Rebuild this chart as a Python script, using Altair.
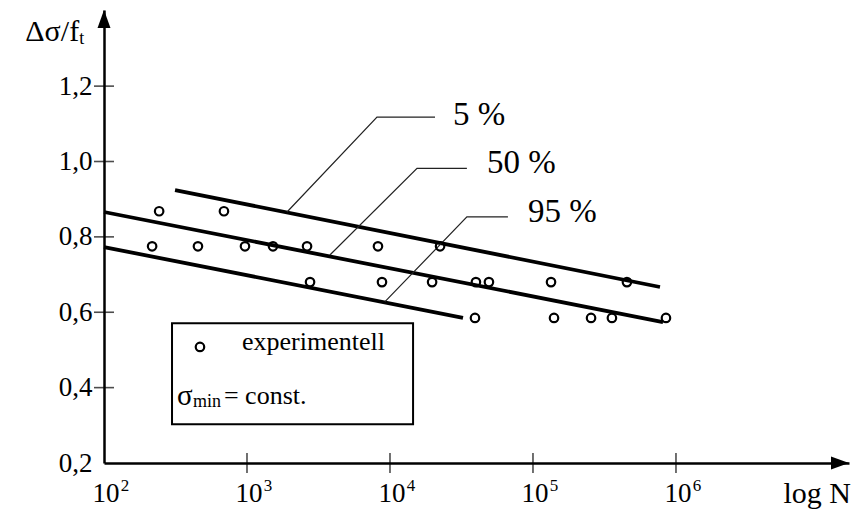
import altair as alt
import pandas as pd

FONT = "Liberation Serif"

# Test results: load cycles N and relative stress range Δσ/f_t
pts_N = [243, 690,
         217, 454, 968, 1520, 2630, 8240, 22400,
         2760, 8790, 19700, 39900, 49200, 133700, 454000,
         39300, 140300, 254700, 356500, 851000]
pts_S = [0.868, 0.868,
         0.775, 0.775, 0.775, 0.775, 0.775, 0.775, 0.775,
         0.68, 0.68, 0.68, 0.68, 0.68, 0.68, 0.68,
         0.585, 0.585, 0.585, 0.585, 0.585]

# Fractile lines (start / end)
line_q = ["5 %", "5 %", "50 %", "50 %", "95 %", "95 %"]
line_N = [314, 773000, 100, 811000, 100, 32400]
line_S = [0.924, 0.667, 0.866, 0.574, 0.773, 0.585]

# Leader lines from the fractile labels to their lines
lead_q = ["5 %", "5 %", "5 %", "50 %", "50 %", "50 %", "95 %", "95 %", "95 %"]
lead_N = [1905, 8110, 20650, 3800, 15450, 34500, 9230, 34500, 66800]
lead_S = [0.866, 1.118, 1.118, 0.752, 0.982, 0.982, 0.628, 0.853, 0.853]

lab_text = ["5 %", "50 %", "95 %"]
lab_N = [27600, 47600, 92200]
lab_S = [1.123, 0.996, 0.866]

# Axes
x_min, x_max = 100, 10 ** 7.21
y_min, y_max = 0.2, 1.402
x_ticks = [1e3, 1e4, 1e5, 1e6]
x_label_N = [1e2, 1e3, 1e4, 1e5, 1e6]
x_label_exp = ["2", "3", "4", "5", "6"]
y_ticks = [0.4, 0.6, 0.8, 1.0, 1.2]
y_labels = [0.2, 0.4, 0.6, 0.8, 1.0, 1.2]

# Legend box and its entries
box_N, box_N2 = [299], [14500]
box_S, box_S2 = [0.571], [0.303]
leg_sym_N, leg_sym_S = [469], [0.508]

xs = alt.Scale(type="log", domain=[x_min, x_max], nice=False)
ys = alt.Scale(domain=[y_min, y_max], nice=False, zero=False)

y_axis = alt.Axis(values=y_labels, labelExpr="replace(format(datum.value, '.1f'), '.', ',')",
                  tickSize=0, ticks=False, labelPadding=12, labelFont=FONT, labelFontSize=27,
                  labelColor="black", domainColor="black", domainWidth=2.5,
                  grid=False, title=None)
x_axis = alt.Axis(values=x_ticks, labels=False, ticks=False, domainColor="black",
                  domainWidth=2.5, grid=False, title=None)


def X():
    return alt.X("N:Q", scale=xs, axis=x_axis)


def Y():
    return alt.Y("S:Q", scale=ys, axis=y_axis)


def text_at(n, s, txt, size, align="left", dx=0, dy=0):
    return alt.Chart(pd.DataFrame({"N": n, "S": s, "t": txt})).mark_text(
        font=FONT, fontSize=size, align=align, baseline="middle", dx=dx, dy=dy,
        color="black").encode(x=X(), y=Y(), text="t:N")


pts = pd.DataFrame({"N": pts_N, "S": pts_S})
lines = pd.DataFrame({"N": line_N, "S": line_S, "q": line_q})
leads = pd.DataFrame({"N": lead_N, "S": lead_S, "q": lead_q})

fractiles = alt.Chart(lines).mark_line(color="black", strokeWidth=3.8).encode(
    x=X(), y=Y(), detail="q:N")

leaders = alt.Chart(leads).mark_line(color="#222", strokeWidth=1.2).encode(
    x=X(), y=Y(), detail="q:N", order=alt.Order("N:Q"))

labels = text_at(lab_N, lab_S, lab_text, 33)

box = alt.Chart(pd.DataFrame({"N": box_N, "N2": box_N2, "S": box_S, "S2": box_S2})).mark_rect(
    fill="white", stroke="black", strokeWidth=2).encode(x=X(), x2="N2:Q", y=Y(), y2="S2:Q")

points = alt.Chart(pts).mark_point(shape="circle", filled=False, color="black", size=72,
                                   strokeWidth=2.2, opacity=1).encode(x=X(), y=Y())

leg_sym = alt.Chart(pd.DataFrame({"N": leg_sym_N, "S": leg_sym_S})).mark_point(
    shape="circle", filled=False, color="black", size=72, strokeWidth=2.2, opacity=1).encode(x=X(), y=Y())
leg_exp = text_at([922], [0.521], ["experimentell"], 26)
leg_sig = text_at([324], [0.378], ["σ"], 29)
leg_min = text_at([419], [0.378], ["min"], 18, dy=6)
leg_const = text_at([690], [0.378], ["= const."], 26)

# Crossing tick marks on both axes
xt = alt.Chart(pd.DataFrame({"N": x_ticks, "S": [y_min] * 4})).mark_tick(
    orient="vertical", size=20, thickness=1.6, color="black").encode(x=X(), y=Y())
yt = alt.Chart(pd.DataFrame({"N": [x_min] * 5, "S": y_ticks})).mark_tick(
    orient="horizontal", size=20, thickness=1.6, color="black").encode(x=X(), y=Y())

# x tick labels 10^n
xl_main = text_at(x_label_N, [y_min] * 5, ["10"] * 5, 27, align="center", dx=2, dy=31)
xl_exp = text_at(x_label_N, [y_min] * 5, x_label_exp, 17, align="center", dx=21, dy=23)

# Axis arrows
arrow_x = alt.Chart(pd.DataFrame({"N": [x_max], "S": [y_min]})).mark_point(
    shape="M0,0 L-2,-0.72 L-2,0.72 Z", size=324, filled=True, color="black", opacity=1,
    strokeWidth=0).encode(x=X(), y=Y())
arrow_y = alt.Chart(pd.DataFrame({"N": [x_min], "S": [y_max]})).mark_point(
    shape="M0,0 L-0.72,2 L0.72,2 Z", size=324, filled=True, color="black", opacity=1,
    strokeWidth=0).encode(x=X(), y=Y())

# Axis titles
title_main = text_at([67], [1.343], ["Δσ/f"], 30, align="right")
title_sub = text_at([67], [1.343], ["t"], 18, dy=7)
x_title = text_at([1.675e7], [y_min], ["log N"], 30, align="right", dy=31)

chart = alt.layer(
    fractiles, leaders, labels, box, points, leg_sym, leg_exp, leg_sig, leg_min, leg_const,
    xt, yt, xl_main, xl_exp, arrow_x, arrow_y, title_main, title_sub, x_title
).properties(
    width=745, height=453,
    autosize=alt.AutoSizeParams(type="none"),
    padding={"left": 104, "top": 10, "right": 8, "bottom": 49},
    background="white",
).configure_view(stroke=None)

chart.save("out.html", embed_options={"renderer": "svg", "actions": False})
